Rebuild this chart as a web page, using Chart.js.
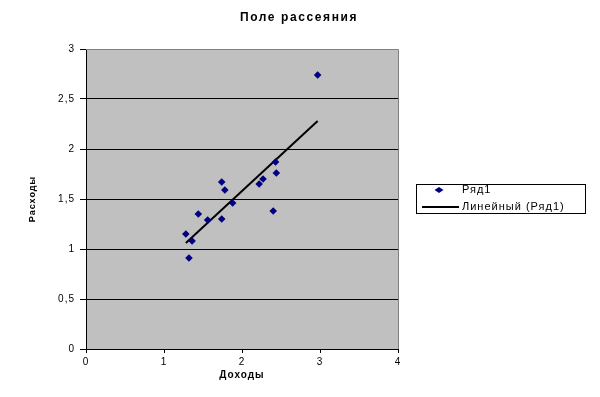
<!DOCTYPE html>
<html><head><meta charset="utf-8">
<script src="https://cdn.jsdelivr.net/npm/chart.js@4/dist/chart.umd.min.js"></script>
<style>html,body{margin:0;padding:0;background:#fff}#wrap{width:600px;height:397px;position:relative}</style>
</head><body><div id="wrap"><canvas id="c" width="600" height="397"></canvas></div>
<script>
const chartTitle = 'Поле рассеяния';
const xAxisTitle = 'Доходы';
const yAxisTitle = 'Расходы';
const seriesName = 'Ряд1';
const trendName = 'Линейный (Ряд1)';
const incomeX  = [1.28, 1.32, 1.36, 1.44, 1.56, 1.74, 1.74, 1.78, 1.88, 2.22, 2.27, 2.43, 2.44, 2.40, 2.97];
const expenseY = [1.15, 0.91, 1.08, 1.35, 1.29, 1.30, 1.67, 1.59, 1.46, 1.65, 1.70, 1.87, 1.76, 1.38, 2.74];
const trendX = [1.28, 2.97];
const trendY = [1.06, 2.28];
const xTicks = [0, 1, 2, 3, 4];
const yTicks = [0, 0.5, 1, 1.5, 2, 2.5, 3];

const FONT = "'Liberation Sans', Arial, sans-serif";
const NAVY = '#000080';

const decor = {
  id: 'decor',
  beforeDraw(chart) {
    const {ctx, chartArea: a} = chart;
    ctx.letterSpacing = '1px';
    ctx.save();
    ctx.fillStyle = '#c0c0c0';
    ctx.fillRect(a.left, a.top, a.right - a.left, a.bottom - a.top);
    ctx.restore();
  },
  afterDraw(chart) {
    const {ctx, chartArea: a} = chart;
    ctx.save();
    ctx.strokeStyle = '#808080';
    ctx.lineWidth = 1;
    ctx.beginPath();
    ctx.moveTo(a.left, Math.round(a.top) + 0.5);
    ctx.lineTo(Math.round(a.right) + 0.5, Math.round(a.top) + 0.5);
    ctx.lineTo(Math.round(a.right) + 0.5, a.bottom);
    ctx.stroke();
    ctx.fillStyle = '#000';
    ctx.font = 'bold 12px ' + FONT;
    ctx.letterSpacing = '1.6px';
    ctx.textAlign = 'center';
    ctx.textBaseline = 'middle';
    ctx.fillText(chartTitle, 299, 18);
    ctx.letterSpacing = '1px';
    ctx.strokeStyle = '#000';
    ctx.strokeRect(416.5, 184.5, 169, 29);
    ctx.fillStyle = NAVY;
    ctx.beginPath();
    ctx.moveTo(434.5, 190); ctx.lineTo(439, 187); ctx.lineTo(443.5, 190); ctx.lineTo(439, 193);
    ctx.closePath(); ctx.fill();
    ctx.strokeStyle = '#000';
    ctx.lineWidth = 2;
    ctx.beginPath(); ctx.moveTo(422, 207); ctx.lineTo(459, 207); ctx.stroke();
    ctx.fillStyle = '#000';
    ctx.font = '11px ' + FONT;
    ctx.textAlign = 'left';
    ctx.fillText(seriesName, 462, 190);
    ctx.fillText(trendName, 462, 207);
    ctx.restore();
  }
};

new Chart(document.getElementById('c'), {
  type: 'scatter',
  data: {
    datasets: [
      {
        label: seriesName,
        data: incomeX.map((x, i) => ({x, y: expenseY[i]})),
        pointStyle: 'rectRot',
        radius: 3.8,
        backgroundColor: NAVY,
        borderColor: NAVY,
        borderWidth: 0
      },
      {
        label: trendName,
        type: 'line',
        data: trendX.map((x, i) => ({x, y: trendY[i]})),
        borderColor: '#000',
        borderWidth: 2,
        pointRadius: 0,
        fill: false
      }
    ]
  },
  options: {
    responsive: false,
    devicePixelRatio: 1,
    animation: false,
    layout: {padding: {left: 0, top: 49, right: 202, bottom: 0}},
    plugins: {legend: {display: false}, title: {display: false}, tooltip: {enabled: false}},
    scales: {
      x: {
        type: 'linear', min: 0, max: 4,
        afterFit(s) { s.height = 48; },
        afterBuildTicks(s) { s.ticks = xTicks.map(v => ({value: v})); },
        grid: {drawOnChartArea: false, drawTicks: true, tickLength: 4, tickColor: '#000'},
        border: {display: true, color: '#000', width: 1},
        ticks: {color: '#000', font: {family: FONT, size: 10}, padding: 3, maxRotation: 0},
        title: {display: true, text: xAxisTitle, color: '#000', font: {family: FONT, size: 10, weight: 'bold'}, padding: {top: 0, bottom: 16}}
      },
      y: {
        type: 'linear', min: 0, max: 3,
        afterFit(s) { s.width = 86; },
        afterBuildTicks(s) { s.ticks = yTicks.map(v => ({value: v})); },
        grid: {
          color: c => (c.tick && c.tick.value === 3) ? 'rgba(0,0,0,0)' : '#000',
          tickColor: '#000', tickLength: 6, drawTicks: true
        },
        border: {display: true, color: '#000', width: 1},
        ticks: {color: '#000', font: {family: FONT, size: 10}, padding: 5,
          callback: v => String(v).replace('.', ',')},
        title: {display: true, text: yAxisTitle, color: '#000', font: {family: FONT, size: 9, weight: 'bold'}, padding: {top: 27, bottom: 0}}
      }
    }
  },
  plugins: [decor]
});
</script>
</body></html>
